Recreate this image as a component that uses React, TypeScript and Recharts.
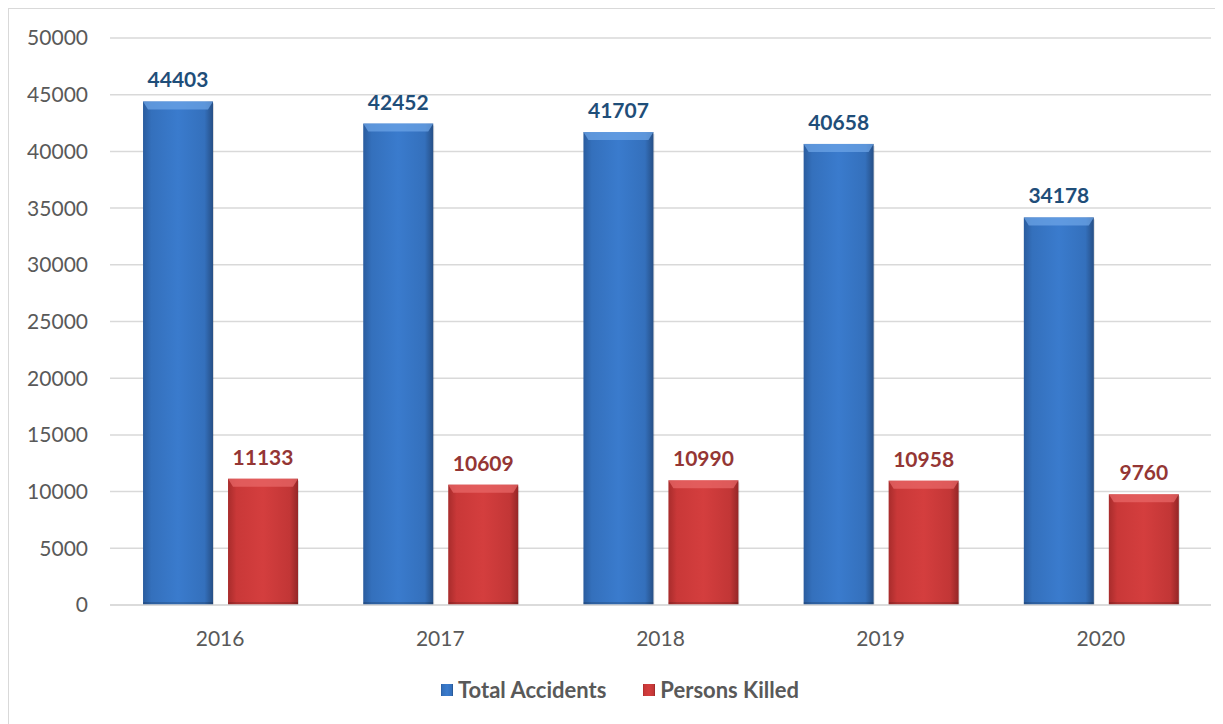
import { Bar, BarChart, CartesianGrid, LabelList, Legend, XAxis, YAxis } from 'recharts';

const years = ['2016', '2017', '2018', '2019', '2020'];
const totalAccidents = [44403, 42452, 41707, 40658, 34178];
const personsKilled = [11133, 10609, 10990, 10958, 9760];
const yTicks = [0, 5000, 10000, 15000, 20000, 25000, 30000, 35000, 40000, 45000, 50000];

const data = years.map((year, i) => ({
  year,
  total: totalAccidents[i],
  killed: personsKilled[i],
}));

const FONT = 'Lato, "Open Sans", sans-serif';

type ShapeProps = { x?: number; y?: number; width?: number; height?: number };

function makeBevelBar(id: string, cap: string) {
  return function BevelBar({ x = 0, y = 0, width = 0, height = 0 }: ShapeProps) {
    if (height <= 0) return null;
    const capH = Math.min(8, height);
    return (
      <g>
        <rect x={x + 1} y={y + 2} width={width} height={height - 2} fill="rgba(0,0,0,0.12)" />
        <rect x={x} y={y} width={width} height={height} fill={`url(#${id})`} />
        <polygon
          points={`${x},${y} ${x + width},${y} ${x + width - 5},${y + capH} ${x + 5},${y + capH}`}
          fill={cap}
          opacity={0.7}
        />
        <rect x={x} y={y + height - 3} width={width} height={3} fill="rgba(0,0,0,0.15)" />
      </g>
    );
  };
}

const BlueBar = makeBevelBar('gBlue', '#6FA6E8');
const RedBar = makeBevelBar('gRed', '#EA6A6A');

const legendItems = [
  { label: 'Total Accidents', id: 'gBlue' },
  { label: 'Persons Killed', id: 'gRed' },
];

function ChartLegend() {
  return (
    <div style={{ display: 'flex', justifyContent: 'center', gap: 37, fontFamily: FONT, paddingLeft: 20 }}>
      {legendItems.map((item) => (
        <div key={item.label} style={{ display: 'flex', alignItems: 'center', gap: 5 }}>
          <svg width={12} height={12}>
            <rect width={12} height={12} fill={`url(#${item.id})`} />
          </svg>
          <span style={{ fontSize: 22, fontWeight: 700, color: '#595959', lineHeight: '26px' }}>{item.label}</span>
        </div>
      ))}
    </div>
  );
}

export default function App() {
  return (
    <div
      style={{
        width: 1214,
        height: 715,
        borderTop: '1px solid #D9D9D9',
        borderLeft: '1px solid #D9D9D9',
        background: '#fff',
      }}
    >
      <BarChart
        width={1214}
        height={715}
        data={data}
        margin={{ top: 29, right: 12, left: 0, bottom: 0 }}
        barCategoryGap="15%"
        barGap={15}
      >
        <defs>
          <linearGradient id="gBlue" x1="0" y1="0" x2="1" y2="0">
            <stop offset="0%" stopColor="#2A5C9E" />
            <stop offset="12%" stopColor="#3470BC" />
            <stop offset="50%" stopColor="#3A7BCD" />
            <stop offset="88%" stopColor="#3470BC" />
            <stop offset="100%" stopColor="#264F86" />
          </linearGradient>
          <linearGradient id="gRed" x1="0" y1="0" x2="1" y2="0">
            <stop offset="0%" stopColor="#A82C2C" />
            <stop offset="12%" stopColor="#C93838" />
            <stop offset="50%" stopColor="#D43E3E" />
            <stop offset="88%" stopColor="#C23636" />
            <stop offset="100%" stopColor="#942626" />
          </linearGradient>
        </defs>
        <CartesianGrid vertical={false} stroke="#D9D9D9" strokeWidth={1.5} />
        <XAxis
          dataKey="year"
          axisLine={{ stroke: '#D9D9D9', strokeWidth: 1.5 }}
          tickLine={false}
          tickMargin={20}
          height={72}
          tick={{ fill: '#595959', fontSize: 21, fontFamily: FONT }}
        />
        <YAxis
          domain={[0, 50000]}
          ticks={yTicks}
          interval={0}
          axisLine={false}
          tickLine={false}
          width={101}
          tickMargin={16}
          tick={{ fill: '#595959', fontSize: 21, fontFamily: FONT }}
        />
        <Legend verticalAlign="bottom" height={47} content={() => <ChartLegend />} />
        <Bar dataKey="total" name="Total Accidents" shape={BlueBar} isAnimationActive={false}>
          <LabelList
            dataKey="total"
            position="top"
            offset={14}
            fill="#1F4E79"
            fontSize={21}
            fontWeight={700}
            fontFamily={FONT}
          />
        </Bar>
        <Bar dataKey="killed" name="Persons Killed" shape={RedBar} isAnimationActive={false}>
          <LabelList
            dataKey="killed"
            position="top"
            offset={14}
            fill="#943634"
            fontSize={21}
            fontWeight={700}
            fontFamily={FONT}
          />
        </Bar>
      </BarChart>
    </div>
  );
}
